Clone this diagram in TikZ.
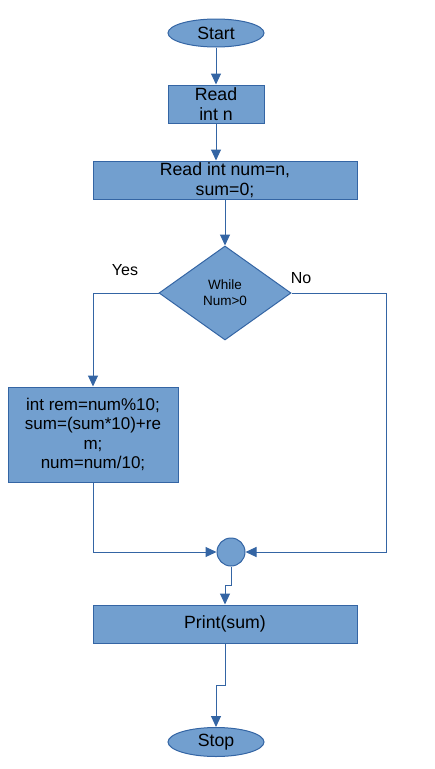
\documentclass[tikz,border=0pt]{standalone}
\usepackage{fontspec}
\setmainfont{Liberation Sans}
\usetikzlibrary{shapes.geometric,arrows.meta}
\definecolor{boxfill}{HTML}{729FCF}
\definecolor{boxline}{HTML}{3465A4}
\tikzset{
  base/.style={fill=boxfill,draw=boxline,line width=1pt,inner sep=0pt,align=center,
    font=\fontsize{17.7}{19.5}\selectfont},
  term/.style={base,ellipse,minimum width=96pt,minimum height=28pt},
  proc/.style={base,rectangle,minimum height=38pt},
  decide/.style={base,diamond,minimum width=132pt,minimum height=94pt,aspect=1.4,
    font=\fontsize{13.5}{16}\selectfont},
  joint/.style={base,circle,minimum size=28pt},
  arr/.style={draw=boxline,line width=1pt,-{Triangle[length=11pt,width=10pt]}},
  lbl/.style={font=\fontsize{16}{18}\selectfont,inner sep=0pt}
}
\begin{document}
\begin{tikzpicture}[x=1pt,y=-1pt]
\useasboundingbox (0,0) rectangle (435,769);
\node[term] (start) at (216,33) {Start};
\node[proc,minimum width=96pt] (read) at (216,104) {Read\\int n};
\node[proc,minimum width=264pt] (init) at (225,180) {Read int num=n,\\sum=0;};
\node[decide] (cond) at (225,293) {While\\Num>0};
\node[proc,minimum width=170pt,minimum height=95pt,font=\fontsize{17}{19.5}\selectfont] (body) at (93,434.5) {int rem=num\%10;\\sum=(sum*10)+re\\m;\\num=num/10;};
\node[joint] (join) at (231,552) {};
\node[proc,minimum width=264pt] (print) at (225,624) {Print(sum)};
\node[term,minimum height=29pt] (stop) at (216,742) {Stop};
\node[lbl] (yes) at (125,270) {Yes};
\node[lbl] (no) at (301,278) {No};
\coordinate (rc) at (386,552);
\draw[arr] (start.south) -- (read.north);
\draw[arr] (read.south) -- (read.south |- init.north);
\draw[arr] (init.south) -- (cond.north);
\draw[arr] (cond.west) -| (body.north);
\draw[arr] (cond.east) -| (rc) -- (join.east);
\draw[arr] (body.south) |- (join.west);
\draw[arr] (join.south) -- ++(0,19) -| (print.north);
\draw[arr] (print.south) -- ++(0,42) -| (stop.north);
\end{tikzpicture}
\end{document}
